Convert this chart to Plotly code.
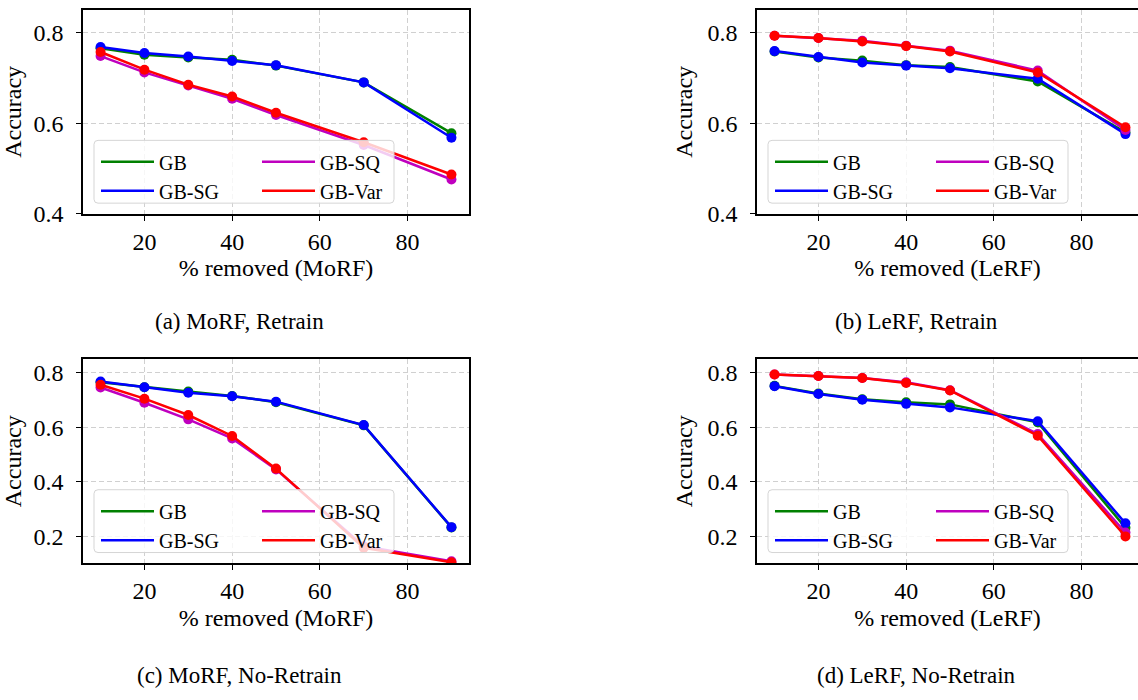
import plotly.graph_objects as go

W, H = 1138, 700
FONT = "Liberation Serif"

# % of features removed
removed = [10, 20, 30, 40, 50, 70, 90]

# (a) MoRF, Retrain
morf_retrain_gb = [0.765, 0.751, 0.745, 0.740, 0.727, 0.690, 0.578]
morf_retrain_sg = [0.768, 0.755, 0.747, 0.737, 0.728, 0.690, 0.568]
morf_retrain_sq = [0.748, 0.712, 0.683, 0.654, 0.618, 0.552, 0.476]
morf_retrain_var = [0.757, 0.718, 0.685, 0.659, 0.623, 0.558, 0.487]

# (b) LeRF, Retrain
lerf_retrain_gb = [0.758, 0.745, 0.738, 0.728, 0.724, 0.692, 0.580]
lerf_retrain_sg = [0.759, 0.746, 0.734, 0.727, 0.721, 0.698, 0.576]
lerf_retrain_sq = [0.793, 0.788, 0.782, 0.771, 0.760, 0.716, 0.585]
lerf_retrain_var = [0.793, 0.788, 0.780, 0.770, 0.758, 0.712, 0.591]

# (c) MoRF, No-Retrain
morf_noretrain_gb = [0.765, 0.747, 0.731, 0.715, 0.692, 0.607, 0.232]
morf_noretrain_sg = [0.768, 0.747, 0.727, 0.714, 0.694, 0.608, 0.233]
morf_noretrain_sq = [0.746, 0.690, 0.629, 0.559, 0.445, 0.163, 0.108]
morf_noretrain_var = [0.756, 0.705, 0.645, 0.568, 0.448, 0.157, 0.104]

# (d) LeRF, No-Retrain
lerf_noretrain_gb = [0.752, 0.724, 0.703, 0.692, 0.684, 0.618, 0.231]
lerf_noretrain_sg = [0.751, 0.722, 0.701, 0.686, 0.673, 0.622, 0.247]
lerf_noretrain_sq = [0.794, 0.788, 0.781, 0.765, 0.736, 0.575, 0.213]
lerf_noretrain_var = [0.794, 0.788, 0.781, 0.763, 0.735, 0.569, 0.199]

methods = ["GB", "GB-SG", "GB-SQ", "GB-Var"]
colors = {"GB": "#008000", "GB-SG": "#0000ff", "GB-SQ": "#bf00bf", "GB-Var": "#ff0000"}

panels = [
    dict(series=[morf_retrain_gb, morf_retrain_sg, morf_retrain_sq, morf_retrain_var],
         xlabel="% removed (MoRF)", caption="(a) MoRF, Retrain", col=0, row=0),
    dict(series=[lerf_retrain_gb, lerf_retrain_sg, lerf_retrain_sq, lerf_retrain_var],
         xlabel="% removed (LeRF)", caption="(b) LeRF, Retrain", col=1, row=0),
    dict(series=[morf_noretrain_gb, morf_noretrain_sg, morf_noretrain_sq, morf_noretrain_var],
         xlabel="% removed (MoRF)", caption="(c) MoRF, No-Retrain", col=0, row=1),
    dict(series=[lerf_noretrain_gb, lerf_noretrain_sg, lerf_noretrain_sq, lerf_noretrain_var],
         xlabel="% removed (LeRF)", caption="(d) LeRF, No-Retrain", col=1, row=1),
]

# pixel geometry of the axes boxes (left, right, top, bottom)
col_px = [(83, 469), (757, 1138)]
row_px = [(10, 218), (366, 574)]
px_per_unit = (469 - 83) / 88.0
x_ranges = [[6, 94], [6, 6 + (1138 - 757) / px_per_unit]]
y_ranges = [[0.4, 0.85], [0.1, 0.85]]
y_ticks = [[0.4, 0.6, 0.8], [0.2, 0.4, 0.6, 0.8]]
caption_x = [239, 916]
caption_y = [328, 688]
legend_box_px = [(94, 394), (768, 1068)]
legend_top_px = [143, 499]


def px_x(p):
    return p / W


def px_y(p):
    return 1 - p / H


fig = go.Figure()
layout = dict(
    width=W, height=H,
    margin=dict(l=0, r=0, t=0, b=0),
    paper_bgcolor="white", plot_bgcolor="white",
    font=dict(family=FONT, size=24, color="black"),
    showlegend=True,
)
shapes = []
annotations = []

for i, p in enumerate(panels):
    n = i + 1
    xa = "xaxis" if n == 1 else f"xaxis{n}"
    ya = "yaxis" if n == 1 else f"yaxis{n}"
    xref = "x" if n == 1 else f"x{n}"
    yref = "y" if n == 1 else f"y{n}"
    c, r = p["col"], p["row"]
    x0, x1 = col_px[c]
    y0, y1 = row_px[r]

    leg_a = "legend" if 2 * i + 1 == 1 else f"legend{2 * i + 1}"
    leg_b = f"legend{2 * i + 2}"

    for m, vals in zip(methods, p["series"]):
        leg = leg_a if m in ("GB", "GB-SG") else leg_b
        fig.add_trace(go.Scatter(
            x=removed, y=vals, mode="lines", name=m,
            line=dict(color=colors[m], width=2.5),
            xaxis=xref, yaxis=yref, legend=leg, showlegend=True,
        ))
        fig.add_trace(go.Scatter(
            x=removed, y=vals, mode="markers", name=m,
            marker=dict(color=colors[m], size=10),
            xaxis=xref, yaxis=yref, showlegend=False,
        ))

    layout[xa] = dict(
        domain=[px_x(x0), min(px_x(x1), 1.0)], range=x_ranges[c],
        anchor=yref, tickvals=[20, 40, 60, 80],
        showline=True, linecolor="black", linewidth=1.6, mirror=True,
        ticks="outside", ticklen=5, tickwidth=1.3, tickcolor="black",
        showgrid=True, gridcolor="#d0d0d0", gridwidth=1, griddash="5px,3px",
        zeroline=False, tickfont=dict(size=24),
        title=dict(text=p["xlabel"], font=dict(size=24), standoff=6),
    )
    layout[ya] = dict(
        domain=[px_y(y1), px_y(y0)], range=y_ranges[r],
        anchor=xref, tickvals=y_ticks[r], tickformat=".1f",
        showline=True, linecolor="black", linewidth=1.6, mirror=(c == 0),
        ticks="outside", ticklen=5, tickwidth=1.3, tickcolor="black",
        showgrid=True, gridcolor="#d0d0d0", gridwidth=1, griddash="5px,3px",
        zeroline=False, tickfont=dict(size=24), ticklabelstandoff=8,
        title=dict(text="Accuracy", font=dict(size=24), standoff=8),
    )

    # legend frame: rounded, semi-opaque white box over the lines
    lx0, lx1 = legend_box_px[c]
    ly0 = legend_top_px[r]
    ly1 = ly0 + 64
    rad = 4
    path = (
        f"M{px_x(lx0 + rad)},{px_y(ly0)} L{px_x(lx1 - rad)},{px_y(ly0)} "
        f"Q{px_x(lx1)},{px_y(ly0)} {px_x(lx1)},{px_y(ly0 + rad)} "
        f"L{px_x(lx1)},{px_y(ly1 - rad)} "
        f"Q{px_x(lx1)},{px_y(ly1)} {px_x(lx1 - rad)},{px_y(ly1)} "
        f"L{px_x(lx0 + rad)},{px_y(ly1)} "
        f"Q{px_x(lx0)},{px_y(ly1)} {px_x(lx0)},{px_y(ly1 - rad)} "
        f"L{px_x(lx0)},{px_y(ly0 + rad)} "
        f"Q{px_x(lx0)},{px_y(ly0)} {px_x(lx0 + rad)},{px_y(ly0)} Z"
    )
    shapes.append(dict(type="path", path=path, xref="paper", yref="paper",
                       fillcolor="rgba(255,255,255,0.8)",
                       line=dict(color="#d5d5d5", width=1), layer="above"))

    legend_common = dict(
        xanchor="left", yanchor="top", orientation="v",
        bgcolor="rgba(0,0,0,0)", borderwidth=0,
        font=dict(family=FONT, size=20, color="black"),
        itemwidth=53, tracegroupgap=0,
    )
    layout[leg_a] = dict(legend_common, x=px_x(lx0 + 2), y=px_y(ly0 + 2))
    layout[leg_b] = dict(legend_common, x=px_x(lx0 + 163), y=px_y(ly0 + 2))

    annotations.append(dict(
        text=p["caption"], x=px_x(caption_x[c]), y=px_y(caption_y[r]),
        xref="paper", yref="paper", xanchor="center", yanchor="middle",
        showarrow=False, font=dict(family=FONT, size=23, color="black"),
    ))

layout["shapes"] = shapes
layout["annotations"] = annotations
fig.update_layout(**layout)

fig.write_html("out.html")
